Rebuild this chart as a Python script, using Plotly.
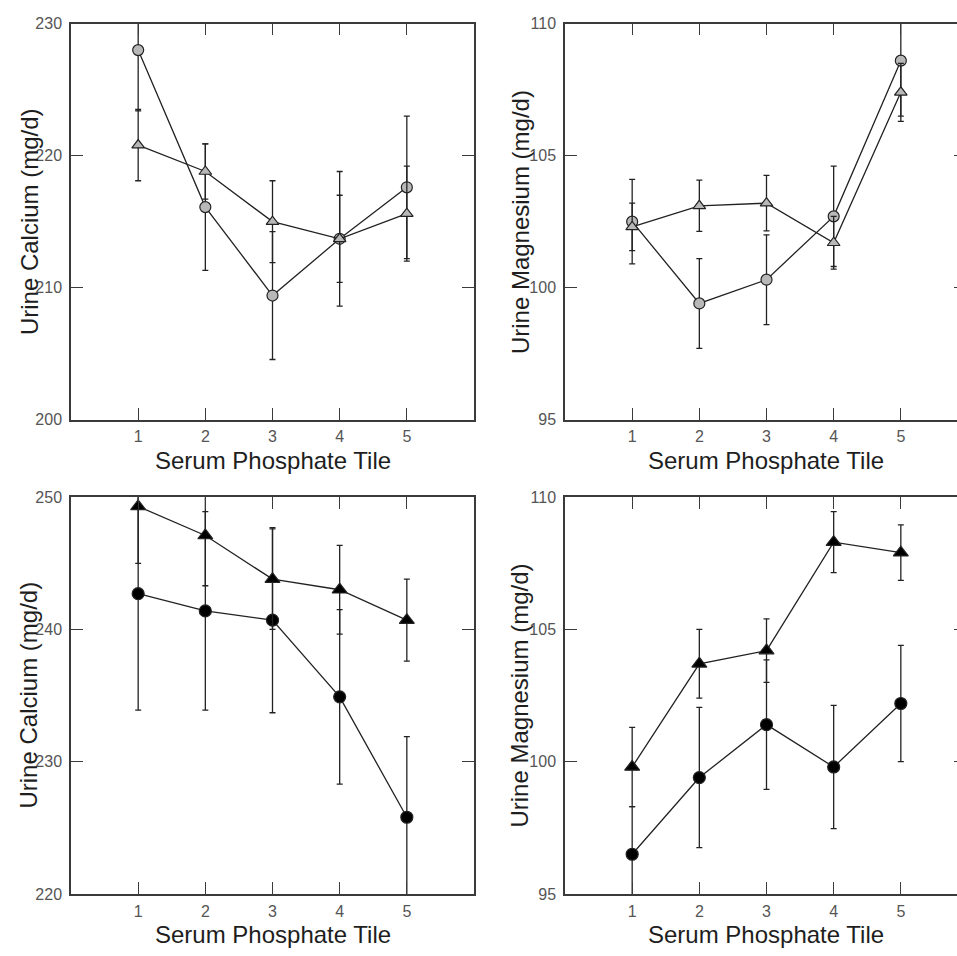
import plotly.graph_objects as go

# ---------------- data ----------------
tiles = [1, 2, 3, 4, 5]
tick_vals_x = [1, 2, 3, 4, 5]

# Top-left: Urine Calcium (open grey markers)
ca_top_circle = [228.0, 216.1, 209.4, 213.7, 217.6]
ca_top_circle_err = [4.6, 4.8, 4.85, 5.1, 5.4]
ca_top_tri = [220.8, 218.8, 215.0, 213.7, 215.6]
ca_top_tri_err = [2.7, 2.1, 3.1, 3.3, 3.6]

# Top-right: Urine Magnesium (open grey markers)
mg_top_circle = [102.5, 99.4, 100.3, 102.7, 108.6]
mg_top_circle_err = [1.6, 1.7, 1.7, 1.9, 2.1]
mg_top_tri = [102.3, 103.1, 103.2, 101.7, 107.4]
mg_top_tri_err = [0.9, 0.97, 1.05, 1.0, 1.1]

# Bottom-left: Urine Calcium (black markers)
ca_bot_circle = [242.7, 241.4, 240.7, 234.9, 225.8]
ca_bot_circle_err = [8.8, 7.5, 7.0, 6.6, 6.1]
ca_bot_tri = [249.3, 247.1, 243.8, 243.0, 240.7]
ca_bot_tri_err = [4.3, 3.8, 3.8, 3.35, 3.1]

# Bottom-right: Urine Magnesium (black markers)
mg_bot_circle = [96.5, 99.4, 101.4, 99.8, 102.2]
mg_bot_circle_err = [1.8, 2.65, 2.45, 2.33, 2.2]
mg_bot_tri = [99.8, 103.7, 104.2, 108.3, 107.9]
mg_bot_tri_err = [1.5, 1.3, 1.2, 1.15, 1.05]

ca_top_ticks = [200, 210, 220, 230]
mg_ticks = [95, 100, 105, 110]
ca_bot_ticks = [220, 230, 240, 250]

x_title = "Serum Phosphate Tile"
ca_title = "Urine Calcium (mg/d)"
mg_title = "Urine Magnesium (mg/d)"

# ---------------- layout geometry ----------------
W, H = 957, 956
LINE = "#222222"
AXC = "#3a3a3a"
TICKC = "#555555"
FONT = "Liberation Sans, Arial, sans-serif"

def px_x(p):
    return p / W

def px_y(p):
    return 1 - p / H

dom_x_left = [px_x(71), px_x(474)]
dom_x_right = [px_x(565), 1.0]
dom_y_top = [px_y(419), px_y(16)]
dom_y_bot = [px_y(902), px_y(498)]
unit = (474 - 71) / 6.0
right_max = (957 - 565) / unit

fig = go.Figure()

def add_series(xa, ya, y, err, symbol, size, fill):
    fig.add_trace(go.Scatter(
        x=tiles, y=y, xaxis=xa, yaxis=ya, mode="lines+markers",
        line=dict(color=LINE, width=1.3),
        marker=dict(symbol=symbol, size=size, color=fill,
                    line=dict(color=LINE, width=1.2)),
        error_y=dict(type="data", array=err, visible=True,
                     color=LINE, thickness=1.3, width=3),
        showlegend=False, hoverinfo="skip"))

GREY = "#b8b8b8"
add_series("x", "y", ca_top_circle, ca_top_circle_err, "circle", 11, GREY)
add_series("x", "y", ca_top_tri, ca_top_tri_err, "triangle-up", 11, GREY)
add_series("x2", "y2", mg_top_circle, mg_top_circle_err, "circle", 11, GREY)
add_series("x2", "y2", mg_top_tri, mg_top_tri_err, "triangle-up", 11, GREY)
add_series("x3", "y3", ca_bot_circle, ca_bot_circle_err, "circle", 12, "#000000")
add_series("x3", "y3", ca_bot_tri, ca_bot_tri_err, "triangle-up", 13, "#000000")
add_series("x4", "y4", mg_bot_circle, mg_bot_circle_err, "circle", 12, "#000000")
add_series("x4", "y4", mg_bot_tri, mg_bot_tri_err, "triangle-up", 13, "#000000")

tickfont = dict(family=FONT, size=16, color=TICKC)

def xaxis(dom, rng, anchor):
    return dict(domain=dom, range=rng, anchor=anchor, tickvals=tick_vals_x,
                ticks="inside", ticklen=12, tickwidth=1.3, tickcolor=AXC,
                showline=True, linecolor=AXC, linewidth=1.5, mirror="ticks",
                showgrid=False, zeroline=False, tickfont=tickfont,
                ticklabelstandoff=2, fixedrange=True)

def yaxis(dom, rng, ticks, anchor, mirror):
    return dict(domain=dom, range=rng, anchor=anchor, tickvals=ticks,
                ticks="inside", ticklen=12, tickwidth=1.3, tickcolor=AXC,
                showline=True, linecolor=AXC, linewidth=1.5, mirror=mirror,
                showgrid=False, zeroline=False, tickfont=tickfont,
                ticklabelstandoff=4, fixedrange=True)

fig.update_layout(
    width=W, height=H, margin=dict(l=0, r=0, t=0, b=0),
    paper_bgcolor="white", plot_bgcolor="white",
    xaxis=xaxis(dom_x_left, [0, 6], "y"),
    yaxis=yaxis(dom_y_top, [200, 230], ca_top_ticks, "x", "ticks"),
    xaxis2=xaxis(dom_x_right, [0, right_max], "y2"),
    yaxis2=yaxis(dom_y_top, [95, 110], mg_ticks, "x2", False),
    xaxis3=xaxis(dom_x_left, [0, 6], "y3"),
    yaxis3=yaxis(dom_y_bot, [220, 250], ca_bot_ticks, "x3", "ticks"),
    xaxis4=xaxis(dom_x_right, [0, right_max], "y4"),
    yaxis4=yaxis(dom_y_bot, [95, 110], mg_ticks, "x4", False),
    yaxis5=dict(overlaying="y2", side="right", anchor="x2", range=[95, 110],
                tickvals=mg_ticks, ticks="inside", ticklen=3, tickwidth=1.3,
                tickcolor=AXC, showticklabels=False, showline=False,
                showgrid=False, zeroline=False, fixedrange=True),
    yaxis6=dict(overlaying="y4", side="right", anchor="x4", range=[95, 110],
                tickvals=mg_ticks, ticks="inside", ticklen=3, tickwidth=1.3,
                tickcolor=AXC, showticklabels=False, showline=False,
                showgrid=False, zeroline=False, fixedrange=True),
)

# dummy invisible traces so the overlay axes render
for ya, xa in (("y5", "x2"), ("y6", "x4")):
    fig.add_trace(go.Scatter(x=[None], y=[None], xaxis=xa, yaxis=ya,
                             showlegend=False, hoverinfo="skip"))

titlefont = dict(family=FONT, size=24, color="#1e1e1e")
ann = []
for xc, yc, txt in ((29, 218, ca_title), (520, 218, mg_title),
                    (29, 700, ca_title), (520, 700, mg_title)):
    ann.append(dict(x=px_x(xc), y=px_y(yc), xref="paper", yref="paper",
                    text=txt, textangle=-90, showarrow=False,
                    xanchor="center", yanchor="middle", font=titlefont))
for xc, yc in ((272.5, 461), (766, 461), (272.5, 943), (766, 943)):
    ann.append(dict(x=px_x(xc), y=px_y(yc), xref="paper", yref="paper",
                    text=x_title, showarrow=False,
                    xanchor="center", yanchor="middle", font=titlefont))
fig.update_layout(annotations=ann)

fig.write_html("out.html")
